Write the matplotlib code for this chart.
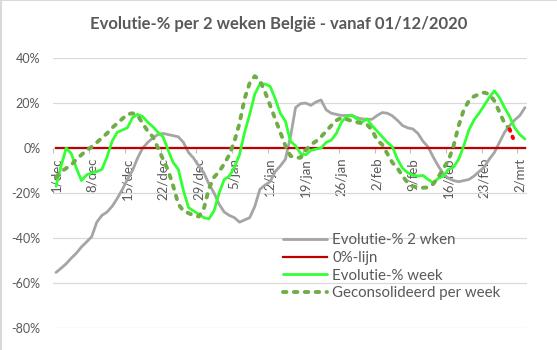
import matplotlib.pyplot as plt
import pandas as pd
from matplotlib.lines import Line2D

plt.rcParams['font.family'] = ['Lato', 'DejaVu Sans']

# dagwaarden vanaf 1/12/2020 (in %)
evol_2wkn = [-55.4, -53.5, -51.5, -49, -46.8, -44, -41.8, -39.5, -33, -30,
             -28.5, -26, -22.5, -18.5, -14, -10, -4.5, 0, 2.5, 4.5,
             6, 6.5, 6, 5.5, 5, 2.5, -2, -4.5, -8, -11,
             -16, -20, -25, -28.5, -30, -31, -33, -32, -31, -26,
             -18.4, -16.5, -15, -10.5, -8, -5, 5, 18, 19.8, 20,
             19, 20.5, 21.4, 17, 15.5, 15, 14.5, 14.5, 14.6, 13.6,
             13, 12.8, 12.8, 14.5, 15.8, 15.5, 14.3, 12.3, 10, 9,
             8.5, 6.5, 3, 0.5, -4, -8, -11.5, -13.5, -14.5, -15,
             -14.5, -14, -12.5, -10.5, -8.5, -5, -2, 2.5, 7, 10,
             12.5, 14.5, 18]
evol_week = [-17, -8, 0, -2.5, -9, -14.5, -12, -11, -10.5, -9.5,
             -4, 3, 7, 8, 9, 13.5, 15, 14, 11.5, 9.5,
             7, 5, -1, -6.5, -9.5, -19, -26.5, -28, -29.5, -31,
             -31.5, -28, -20, -14, -12.5, -8.5, -3, 7, 15, 24,
             28.5, 28.5, 27.5, 22, 15.5, 12, 3, 1, -2.5, -3,
             -1, -0.5, 0, 2.5, 3.5, 6.5, 11.5, 14, 14.6, 13,
             11.5, 13, 10, 7.5, 5, 2.5, 0.5, -5, -9, -11,
             -12, -12.5, -12.2, -14, -15.5, -13.5, -12.5, -9.5, -8.5, -5,
             1, 8, 12.5, 15.5, 19, 22.5, 25.5, 22.5, 18, 14,
             9, 6, 4]
geconsolideerd = [-13, -10.5, -9, -7.5, -5, -3, -1, 0.5, 2.5, 4.5,
                  6.5, 9, 11, 13, 15, 15.5, 14.5, 11, 7.5, 5,
                  0, -5, -10, -17, -25, -28, -29, -30, -30.5, -27,
                  -18, -13, -10.5, -7, -3, 3, 11, 22, 29, 32,
                  30, 25, 19, 13, 7, 1, -3.5, -4.3, -4.3, -1,
                  1.5, 3, 5, 7.5, 10, 12.3, 13.5, 12.8, 12.1, 11.5,
                  11, 10.5, 8, 3.5, 1.5, -2.5, -6.5, -9, -12.5, -15.5,
                  -17, -17.5, -17.7, -17.5, -16, -13, -9, -5.5, 1, 10,
                  17, 21, 23, 24, 24.7, 24, 21, 16, 11, 8.3]
# laatste (voorlopige) stuk geconsolideerd, dag 89-90
voorlopig_dagen = [89, 90]
voorlopig = [8.3, 2.5]

maanden = {12: 'dec', 1: 'jan', 2: 'feb', 3: 'mrt'}
datums = pd.date_range('2020-12-01', periods=len(evol_2wkn), freq='D')
dagen = list(range(len(datums)))
nullijn = [0] * len(dagen)

label_dagen = dagen[::7]
labels = [f"{datums[i].day}/{maanden[datums[i].month]}" for i in label_dagen]

grijs_tekst = '#595959'

fig = plt.figure(figsize=(5.57, 3.5), dpi=100)
ax = fig.add_axes([0.096, 0.0637, 0.851, 0.770])

ax.plot(dagen, evol_2wkn, color='#A5A5A5', lw=2.0, label='Evolutie-% 2 wken',
        solid_capstyle='round')
ax.plot(dagen, nullijn, color='#C00000', lw=1.6, label='0%-lijn')
ax.plot(dagen, evol_week, color='#33FF33', lw=2.0, label='Evolutie-% week',
        solid_capstyle='round')
ax.plot(dagen[:len(geconsolideerd)], geconsolideerd, color='#70AD47', lw=2.8,
        dashes=(0.9, 1.9), dash_capstyle='round', label='Geconsolideerd per week')
ax.plot(voorlopig_dagen, voorlopig, color='#FF0000', lw=2.8,
        dashes=(0.4, 1.6), dash_capstyle='round')

ax.set_xlim(-0.5, len(dagen) - 0.5)
ax.set_ylim(-80, 40)
ax.set_yticks(range(-80, 41, 20))
ax.set_yticklabels([f"{v}%" for v in range(-80, 41, 20)])
ax.yaxis.grid(True, color='#D9D9D9', lw=0.9)
ax.set_axisbelow(True)

for s in ['top', 'right', 'left']:
    ax.spines[s].set_visible(False)
ax.spines['bottom'].set_position(('data', 0))
ax.spines['bottom'].set_visible(False)

ax.set_xticks(label_dagen)
ax.set_xticklabels(labels, rotation=90)
ax.set_xticks([d - 0.5 for d in label_dagen], minor=True)
ax.tick_params(axis='x', which='major', length=0, pad=7, labelsize=9.5, labelcolor=grijs_tekst)
ax.tick_params(axis='x', which='minor', length=3.5, width=0.8, color='#BFBFBF')
ax.tick_params(axis='y', length=0, pad=9.5, labelsize=9, labelcolor=grijs_tekst)

fig.text(0.5, 1 - 24 / 350, 'Evolutie-% per 2 weken België - vanaf 01/12/2020',
         ha='center', va='center', fontsize=12, fontweight='bold', color=grijs_tekst)

leg = ax.legend(loc='upper left', bbox_to_anchor=(283 / 557, 1 - 233 / 350),
                bbox_transform=fig.transFigure, frameon=False, borderpad=0,
                borderaxespad=0, fontsize=10.8, handlelength=2.9,
                handletextpad=0.4, labelspacing=0.25)
for t in leg.get_texts():
    t.set_color(grijs_tekst)

# dunne rand van het grafiekvlak
fig.add_artist(Line2D([0, 1], [0.999, 0.999], transform=fig.transFigure, color='#D9D9D9', lw=1.5))
fig.add_artist(Line2D([0.001, 0.001], [0, 1], transform=fig.transFigure, color='#D9D9D9', lw=1.5))

fig.savefig('out.png', dpi=100)
